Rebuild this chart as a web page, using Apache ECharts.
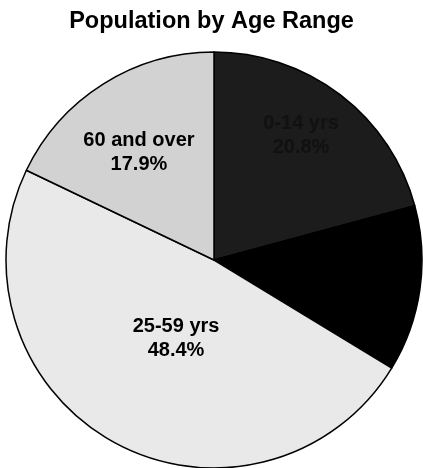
<!DOCTYPE html>
<html>
<head>
<meta charset="utf-8">
<script src="https://cdn.jsdelivr.net/npm/echarts@6/dist/echarts.min.js"></script>
<style>
  html, body { margin: 0; padding: 0; background: #fff; }
  #chart { width: 423px; height: 468px; }
</style>
</head>
<body>
<div id="chart"></div>
<script>
// age ranges, clockwise from 12 o'clock
var ageRanges = ['0-14 yrs', '15-24 yrs', '25-59 yrs', '60 and over'];
var shares = [20.8, 12.9, 48.4, 17.9];
var sliceColors = ['#1c1c1c', '#000000', '#e9e9e9', '#d2d2d2'];
var labelColors = ['#111111', '#000000', '#000000', '#000000'];
// nudges so the text sits where the original put it
var labelOffsets = [[22, -40], [0, 0], [13, -16], [-18, -17]];

var myChart = echarts.init(document.getElementById('chart'));

var pieData = ageRanges.map(function (name, i) {
    return {
        name: name,
        value: shares[i],
        itemStyle: { color: sliceColors[i] },
        label: { color: labelColors[i], offset: labelOffsets[i] }
    };
});

var option = {
    animation: false,
    title: {
        text: 'Population by Age Range',
        left: 'center',
        top: 5,
        textStyle: {
            fontFamily: 'Liberation Sans, Arial, sans-serif',
            fontSize: 23.5,
            fontWeight: 'bold',
            color: '#000'
        }
    },
    series: [{
        type: 'pie',
        center: [214, 260],
        radius: 208,
        startAngle: 90,
        clockwise: true,
        data: pieData,
        itemStyle: {
            borderColor: '#000',
            borderWidth: 1.5
        },
        label: {
            show: true,
            position: 'inside',
            formatter: function (p) {
                return p.name + '\n' + p.value.toFixed(1) + '%';
            },
            fontFamily: 'Liberation Sans, Arial, sans-serif',
            fontSize: 20,
            fontWeight: 'bold',
            lineHeight: 24
        },
        labelLine: { show: false },
        emphasis: { disabled: true }
    }]
};

myChart.setOption(option);
</script>
</body>
</html>
